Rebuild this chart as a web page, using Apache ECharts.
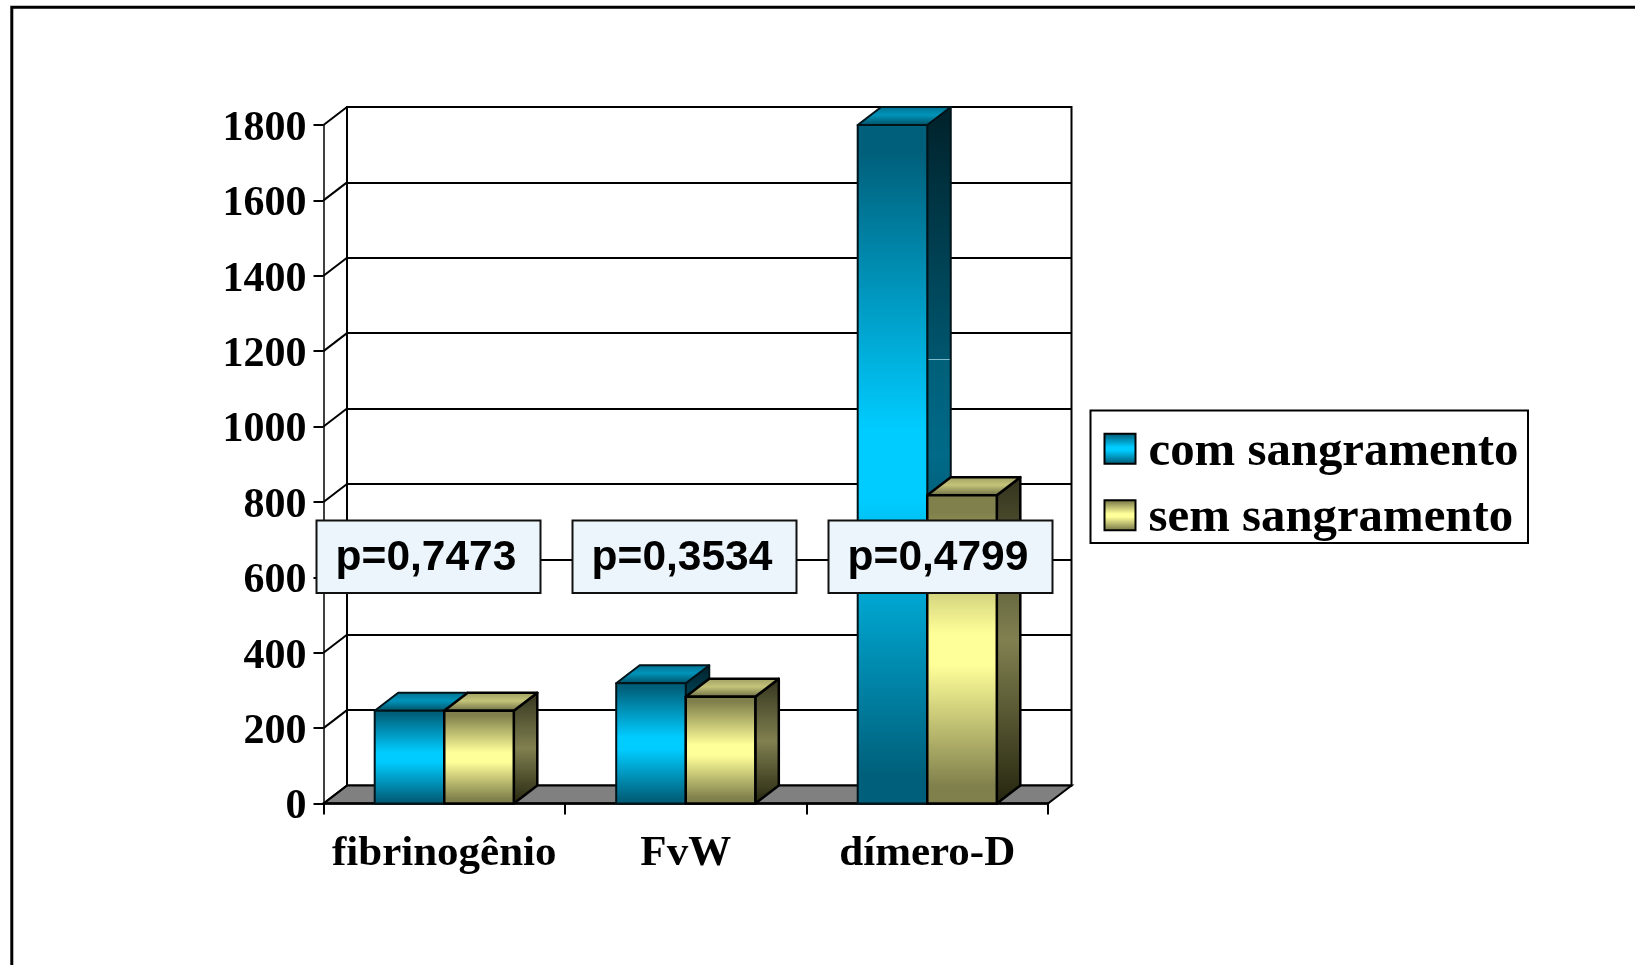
<!DOCTYPE html>
<html>
<head>
<meta charset="utf-8">
<style>html,body{margin:0;padding:0;background:#fff}#chart{width:1635px;height:965px}</style>
<script src="https://cdn.jsdelivr.net/npm/echarts@6/dist/echarts.min.js"></script>
</head>
<body>
<div id="chart"></div>
<script>
// Chart values
const categories = ['fibrinogênio', 'FvW', 'dímero-D'];
const comSangramento = [246, 319, 1800];
const semSangramento = [246, 283, 818];
const seriesNames = ['com sangramento', 'sem sangramento'];
const pLabels = ['p=0,7473', 'p=0,3534', 'p=0,4799'];
const yMin = 0;
const yMax = 1800;
const yStep = 200;
const yTicks = [0, 200, 400, 600, 800, 1000, 1200, 1400, 1600, 1800];

// Pseudo-3D layout
const DEPTH_X = 23.5;
const DEPTH_Y = 18;
const BAR_SHARE = 0.288;
const LABEL_DROP = 4;
const FRONT = { left: 323.5, right: 587, top: 125, bottom: 161.5 };
const BACK = {
  left: FRONT.left + DEPTH_X, right: FRONT.right - DEPTH_X,
  top: FRONT.top - DEPTH_Y, bottom: FRONT.bottom + DEPTH_Y
};
// The value labels sit slightly below their ticks, so they get their own grid
const LABEL_GRID = {
  left: FRONT.left, right: FRONT.right,
  top: FRONT.top + LABEL_DROP, bottom: FRONT.bottom - LABEL_DROP
};
const P_BOX_LEFT = [315.5, 571.5, 827.5];
const P_BOX = { top: 519.5, width: 224, height: 72.5 };
const LEGEND_BOX = { x: 1090.5, y: 410.5, width: 437.5, height: 132.5 };
const Z_TOP = 100;

function vertical(stops) {
  return {
    type: 'linear', x: 0, y: 0, x2: 0, y2: 1,
    colorStops: stops.map(s => ({ offset: s[0], color: s[1] }))
  };
}

const faces = [
  {
    front: vertical([[0, '#005f7a'], [0.04, '#005f7a'], [0.45, '#00ccff'], [0.55, '#00ccff'], [0.96, '#005f7a'], [1, '#005f7a']]),
    side: vertical([[0, '#00212a'], [0.3615, '#00566e'], [0.3615, '#7fbccb'], [0.3640, '#7fbccb'],
                    [0.3640, '#005f79'], [0.5, '#006a88'], [1, '#00212a']]),
    top: vertical([[0, '#00708e'], [0.45, '#0094ba'], [1, '#004c60']]),
    edge: '#00141a',
    edgeWidth: 2
  },
  {
    front: vertical([[0, '#80804c'], [0.06, '#80804c'], [0.45, '#ffff99'], [0.55, '#ffff99'], [0.94, '#80804c'], [1, '#80804c']]),
    side: vertical([[0, '#33331e'], [0.5, '#808050'], [1, '#25250f']]),
    top: vertical([[0, '#9c9c60'], [0.45, '#c4c47a'], [1, '#666640']]),
    edge: '#000',
    edgeWidth: 2.5
  }
];

// One box: front, top and right faces projected from the value scale
function renderBox(params, api) {
  const face = faces[params.seriesIndex - 2];
  const base = api.coord([api.value(0), yMin]);
  const head = api.coord([api.value(0), api.value(1)]);
  const w = api.size([1, 0])[0] * BAR_SHARE;
  const xL = params.seriesIndex === 2 ? base[0] - w : base[0];
  const xR = xL + w;
  const yB = base[1];
  const yT = head[1];
  const poly = (points, fill) => ({
    type: 'polygon',
    shape: { points },
    style: { fill, stroke: face.edge, lineWidth: face.edgeWidth, lineJoin: 'round' }
  });
  return {
    type: 'group',
    children: [
      poly([[xR, yT], [xR + DEPTH_X, yT - DEPTH_Y], [xR + DEPTH_X, yB - DEPTH_Y], [xR, yB]], face.side),
      poly([[xL, yT], [xL + DEPTH_X, yT - DEPTH_Y], [xR + DEPTH_X, yT - DEPTH_Y], [xR, yT]], face.top),
      poly([[xL, yT], [xR, yT], [xR, yB], [xL, yB]], face.front)
    ]
  };
}

// Grey floor joining the front axis to the back wall
function renderFloor(params) {
  const c = params.coordSys;
  const yB = c.y + c.height;
  const xR = c.x + c.width;
  return {
    type: 'polygon',
    shape: { points: [[c.x, yB], [c.x + DEPTH_X, yB - DEPTH_Y], [xR + DEPTH_X, yB - DEPTH_Y], [xR, yB]] },
    style: { fill: '#808080', stroke: '#000', lineWidth: 2 }
  };
}

// Slanted links from each front tick to its gridline on the back wall
function renderLink(params, api) {
  const c = params.coordSys;
  const y = api.coord([0, api.value(0)])[1];
  return {
    type: 'line',
    shape: { x1: c.x, y1: y, x2: c.x + DEPTH_X, y2: y - DEPTH_Y },
    style: { stroke: '#000', lineWidth: 2 }
  };
}

const pBoxes = pLabels.map((label, i) => ({
  type: 'group',
  left: P_BOX_LEFT[i],
  top: P_BOX.top,
  children: [
    {
      type: 'rect', z: Z_TOP,
      shape: { x: 0, y: 0, width: P_BOX.width, height: P_BOX.height },
      style: { fill: '#ebf5fb', stroke: '#111', lineWidth: 2 }
    },
    {
      type: 'text', z: Z_TOP + 1,
      x: P_BOX.width / 2 - 2.5,
      y: P_BOX.height / 2 + 2,
      style: {
        text: label, fill: '#000', align: 'center', verticalAlign: 'middle',
        font: 'bold 42.5px "Liberation Sans"'
      }
    }
  ]
}));

const chart = echarts.init(document.getElementById('chart'), null, { renderer: 'canvas' });
chart.setOption({
  animation: false,
  backgroundColor: '#fff',
  tooltip: { show: false },
  grid: [
    Object.assign({ containLabel: false }, FRONT),
    Object.assign({ containLabel: false, show: true, borderColor: '#000', borderWidth: 2, backgroundColor: 'transparent' }, BACK),
    Object.assign({ containLabel: false }, LABEL_GRID)
  ],
  xAxis: [
    {
      type: 'category', gridIndex: 0, data: categories, z: 4,
      axisLine: { show: true, lineStyle: { color: '#000', width: 2.5 } },
      axisTick: { show: true, length: 11, lineStyle: { color: '#000', width: 2 } },
      axisLabel: { interval: 0, margin: 29, color: '#000', fontFamily: 'Liberation Serif', fontWeight: 'bold', fontSize: 43 },
      splitLine: { show: false }
    },
    { type: 'category', gridIndex: 1, data: categories, show: false },
    { type: 'category', gridIndex: 2, data: categories, show: false }
  ],
  yAxis: [
    {
      type: 'value', gridIndex: 0, min: yMin, max: yMax, interval: yStep, z: 4,
      axisLine: { show: true, lineStyle: { color: '#000', width: 1.5 } },
      axisTick: { show: true, length: 10, lineStyle: { color: '#000', width: 2 } },
      axisLabel: { show: false },
      splitLine: { show: false }
    },
    {
      type: 'value', gridIndex: 1, min: yMin, max: yMax, interval: yStep,
      axisLine: { show: false }, axisTick: { show: false }, axisLabel: { show: false },
      splitLine: { show: true, lineStyle: { color: '#000', width: 2 } }
    },
    {
      type: 'value', gridIndex: 2, min: yMin, max: yMax, interval: yStep,
      axisLine: { show: false }, axisTick: { show: false }, splitLine: { show: false },
      axisLabel: {
        margin: 17, color: '#000',
        fontFamily: 'Liberation Serif', fontWeight: 'bold', fontSize: 42,
        formatter: v => String(v)
      }
    }
  ],
  legend: {
    left: LEGEND_BOX.x + 13, top: 427.7, orient: 'vertical', selectedMode: false,
    padding: 0,
    itemWidth: 31, itemHeight: 30, itemGap: 17.6,
    icon: 'rect',
    formatter: name => '{t|' + name + '}',
    textStyle: {
      color: '#000',
      rich: {
        t: {
          color: '#000', fontFamily: 'Liberation Serif', fontWeight: 'bold', fontSize: 48.8,
          padding: [7, 0, 0, 8]
        }
      }
    },
    data: seriesNames.map((name, i) => ({
      name, icon: 'rect',
      itemStyle: { color: faces[i].front, borderColor: '#000', borderWidth: 2 }
    }))
  },
  series: [
    {
      type: 'custom', name: 'piso', xAxisIndex: 0, yAxisIndex: 0, z: 1, silent: true, clip: false,
      data: [[0, 0]], renderItem: renderFloor
    },
    {
      type: 'custom', name: 'ligações', xAxisIndex: 0, yAxisIndex: 0, z: 1, silent: true, clip: false,
      data: yTicks.map(v => [v]), encode: { y: 0 }, renderItem: renderLink
    },
    {
      type: 'custom', name: seriesNames[0], xAxisIndex: 0, yAxisIndex: 0, z: 5, clip: false,
      itemStyle: { color: faces[0].front },
      data: comSangramento.map((v, i) => [i, v]), encode: { x: 0, y: 1 }, renderItem: renderBox
    },
    {
      type: 'custom', name: seriesNames[1], xAxisIndex: 0, yAxisIndex: 0, z: 5, clip: false,
      itemStyle: { color: faces[1].front },
      data: semSangramento.map((v, i) => [i, v]), encode: { x: 0, y: 1 }, renderItem: renderBox
    }
  ],
  graphic: [
    {
      type: 'polyline', z: Z_TOP, silent: true,
      shape: { points: [[11.8, 975], [11.8, 7.3], [1645, 7.3]] },
      style: { fill: 'none', stroke: '#000', lineWidth: 3 }
    },
    {
      type: 'rect', z: 0, silent: true,
      shape: LEGEND_BOX,
      style: { fill: '#fff', stroke: '#000', lineWidth: 2 }
    }
  ].concat(pBoxes)
});
</script>
</body>
</html>
